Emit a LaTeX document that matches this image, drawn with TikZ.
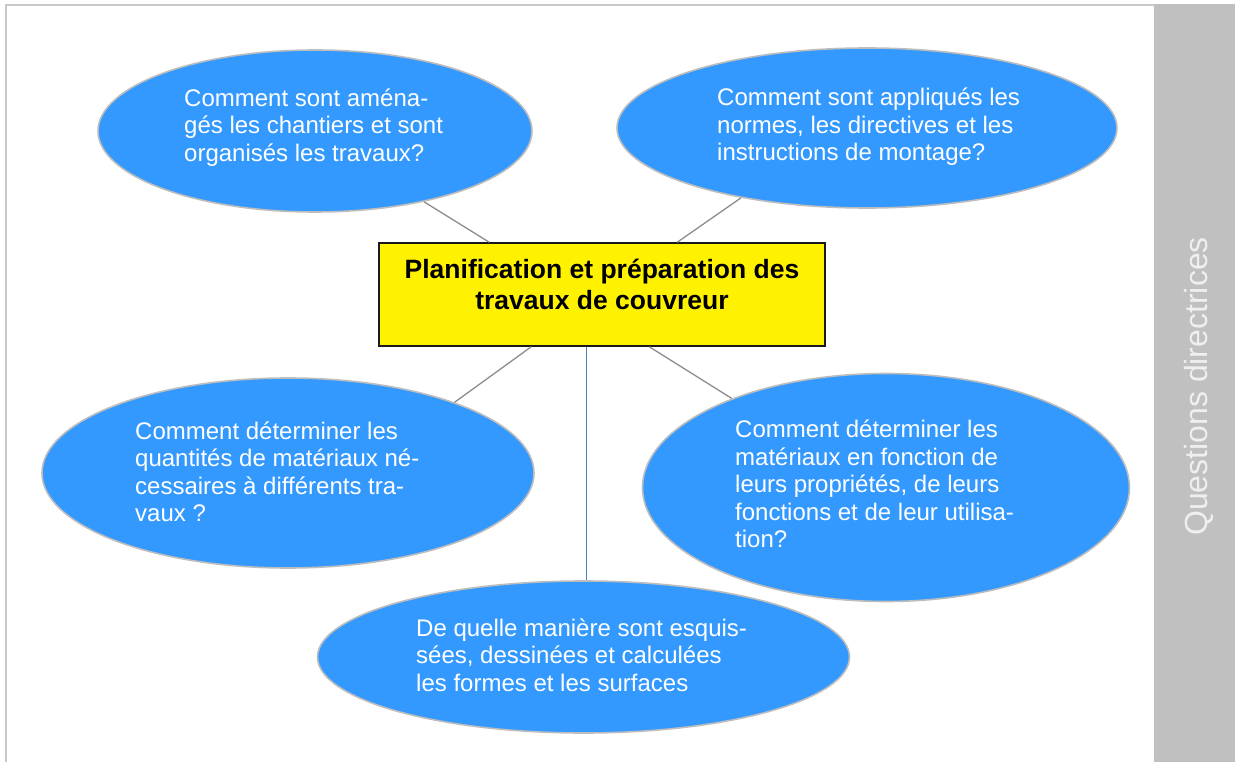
\documentclass[tikz,border=0pt]{standalone}
\usepackage{fontspec}
\setmainfont{Liberation Sans}
\usepackage{xcolor}
\usetikzlibrary{shapes,calc,positioning}

\definecolor{bubbleblue}{HTML}{3399FF}
\definecolor{bubbleedge}{HTML}{BDBDBD}
\definecolor{spokegray}{HTML}{8C8C8C}
\definecolor{spokeblue}{HTML}{4F81BD}
\definecolor{framegray}{HTML}{C8C8C8}
\definecolor{panelgray}{HTML}{C0C0C0}
\definecolor{sidewhite}{HTML}{EFEFEF}

\tikzset{
  bubble/.style={ellipse,draw=bubbleedge,line width=1.6pt,fill=bubbleblue,inner sep=0pt},
  bubbletext/.style={text=white,align=left,inner sep=0pt,anchor=west,
    font=\fontsize{24}{27.5}\selectfont},
  titlebox/.style={draw=black!90,line width=1.5pt,fill=yellow,inner sep=0pt,
    minimum width=446pt,minimum height=103pt},
  spoke/.style={draw=spokegray,line width=1.3pt},
}

\begin{document}
\begin{tikzpicture}[x=1pt,y=-1pt]
\useasboundingbox (0,0) rectangle (1235,762);
% frame and side panel
\fill[panelgray] (1154,4.3) rectangle (1235,762);
\draw[framegray,line width=2pt] (6,762) -- (6,5.3) -- (1154,5.3);
\node[text=sidewhite,rotate=90,anchor=base,inner sep=0pt,font=\fontsize{32}{38}\selectfont] (side) at (1207,386.5) {Questions directrices};

% central box
\node[titlebox] (plan) at (602,294.5) {};
\node[align=center,inner sep=0pt,font=\fontsize{26.5}{30.7}\selectfont\bfseries] (plantext) at (602,284.7)
  {Planification et préparation des\\travaux de couvreur};

% question bubbles
\node[bubble,minimum width=434pt,minimum height=162pt] (q1) at (315,131) {};
\node[bubble,minimum width=500pt,minimum height=160pt] (q2) at (867,128) {};
\node[bubble,minimum width=492pt,minimum height=190pt] (q3) at (288,473) {};
\node[bubble,minimum width=487pt,minimum height=228pt] (q4) at (886,487.5) {};
\node[bubble,minimum width=532pt,minimum height=152pt] (q5) at (583.5,657) {};

\node[bubbletext] (q1text) at (184,127.5) {Comment sont aména-\\gés les chantiers et sont\\organisés les travaux?};
\node[bubbletext] (q2text) at (717,127) {Comment sont appliqués les\\normes, les directives et les\\instructions de montage?};
\node[bubbletext] (q3text) at (135,471.7) {Comment déterminer les\\quantités de matériaux né-\\cessaires à différents tra-\\vaux ?};
\node[bubbletext] (q4text) at (735,484) {Comment déterminer les\\matériaux en fonction de\\leurs propriétés, de leurs\\fonctions et de leur utilisa-\\tion?};
\node[bubbletext] (q5text) at (416,655) {De quelle manière sont esquis-\\sées, dessinées et calculées\\les formes et les surfaces};

% spokes
\draw[spoke] (q1.-33) -- ([xshift=111pt]plan.north west);
\draw[spoke] (q2.-151) -- ([xshift=299pt]plan.north west);
\draw[spoke] (q3.23) -- ([xshift=153pt]plan.south west);
\draw[spoke] (q4.150) -- ([xshift=271pt]plan.south west);
\coordinate (down) at ([xshift=208pt]plan.south west);
\draw[draw=spokeblue,line width=1.5pt] (down) -- (down |- q5.north);
\end{tikzpicture}
\end{document}
